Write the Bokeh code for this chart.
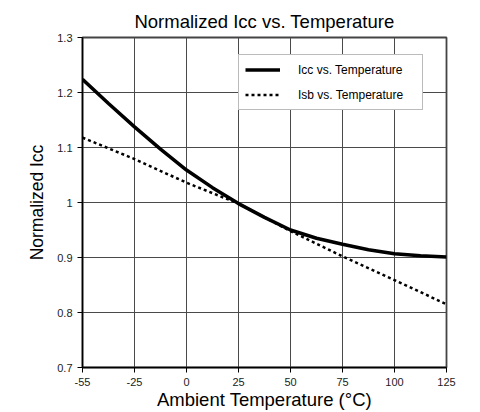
from bokeh.plotting import figure
from bokeh.models import FixedTicker, Legend, LegendItem, Range1d
from bokeh.embed import file_html
from bokeh.resources import INLINE

# temperatures (°C) and normalized currents
temps_icc = [-55, -40, -25, -12.5, 0, 12.5, 25, 37.5, 50, 62.5, 75, 87.5, 100, 112.5, 125]
icc = [1.224, 1.180, 1.1375, 1.097, 1.059, 1.027, 0.998, 0.973, 0.950, 0.935, 0.924, 0.914, 0.907, 0.903, 0.901]
temps_isb = [-55, -25, 0, 25, 50, 75, 100, 125]
isb = [1.118, 1.079, 1.036, 0.998, 0.948, 0.902, 0.859, 0.815]
x_tick_temps = [-55, -25, 0, 25, 50, 75, 100, 125]
x_tick_labels = ["-55", "-25", "0", "25", "50", "75", "100", "125"]
y_ticks = [0.7, 0.8, 0.9, 1.0, 1.1, 1.2, 1.3]
y_tick_labels = ["0.7", "0.8", "0.9", "1", "1.1", "1.2", "1.3"]

FONT = "Liberation Sans"


def temp_to_pos(t):
    # the chart's temperature axis has equally spaced ticks (-55, -25, 0, 25, ...)
    if t <= -25:
        return (t + 55) / 30.0
    return 1 + (t + 25) / 25.0


x_icc = [temp_to_pos(t) for t in temps_icc]
x_isb = [temp_to_pos(t) for t in temps_isb]
x_ticks = [temp_to_pos(t) for t in x_tick_temps]

p = figure(width=480, height=412, output_backend="svg", toolbar_location=None,
           x_range=Range1d(x_ticks[0], x_ticks[-1]), y_range=Range1d(0.7, 1.3),
           min_border_left=82, min_border_right=34, min_border_top=37, min_border_bottom=45)

p.title.text = "Normalized Icc vs. Temperature"
p.title.align = "center"
p.title.text_font = FONT
p.title.text_font_size = "18.5px"
p.title.text_font_style = "normal"
p.title.text_color = "black"
p.title.standoff = 12

p.xaxis.ticker = FixedTicker(ticks=x_ticks)
p.xaxis.major_label_overrides = {v: s for v, s in zip(x_ticks, x_tick_labels)}
p.yaxis.ticker = FixedTicker(ticks=y_ticks)
p.yaxis.major_label_overrides = {v: s for v, s in zip(y_ticks, y_tick_labels)}
p.xaxis.axis_label = "Ambient Temperature (°C)"
p.yaxis.axis_label = "Normalized Icc"
for ax in (p.xaxis, p.yaxis):
    ax.axis_label_text_font = FONT
    ax.axis_label_text_font_style = "normal"
    ax.axis_label_text_color = "black"
    ax.major_label_text_font = FONT
    ax.major_label_text_font_size = "11px"
    ax.major_label_text_color = "#222222"
    ax.axis_line_color = "black"
    ax.axis_line_width = 1.5
    ax.major_tick_line_color = "black"
    ax.major_tick_out = 5
    ax.major_tick_in = 0
    ax.minor_tick_line_color = None
p.xaxis.axis_label_text_font_size = "18.5px"
p.yaxis.axis_label_text_font_size = "17.5px"
p.xaxis.axis_label_standoff = 0
p.yaxis.axis_label_standoff = 7
p.xaxis.major_label_standoff = 5
p.yaxis.major_label_standoff = 5

p.grid.grid_line_color = "#4a4a4a"
p.grid.grid_line_width = 1
p.grid.grid_line_alpha = 1.0
p.outline_line_color = "#444444"
p.outline_line_width = 1.8
p.background_fill_color = "white"

r1 = p.line(x_icc, icc, line_color="black", line_width=3.5)
r2 = p.line(x_isb, isb, line_color="black", line_width=2.5, line_dash="3 3")

legend = Legend(items=[LegendItem(label="Icc vs. Temperature", renderers=[r1]),
                       LegendItem(label="Isb vs. Temperature", renderers=[r2])],
                location=(156, 257))
legend.label_text_font = FONT
legend.label_text_font_size = "12px"
legend.label_text_color = "black"
legend.glyph_width = 35
legend.glyph_height = 17
legend.spacing = 8
legend.label_standoff = 18
legend.label_width = 118
legend.padding = 6
legend.margin = 0
legend.border_line_color = "#777777"
legend.border_line_width = 1.5
legend.background_fill_alpha = 1.0
p.add_layout(legend, "center")

open("out.html", "w").write(file_html(p, INLINE))
